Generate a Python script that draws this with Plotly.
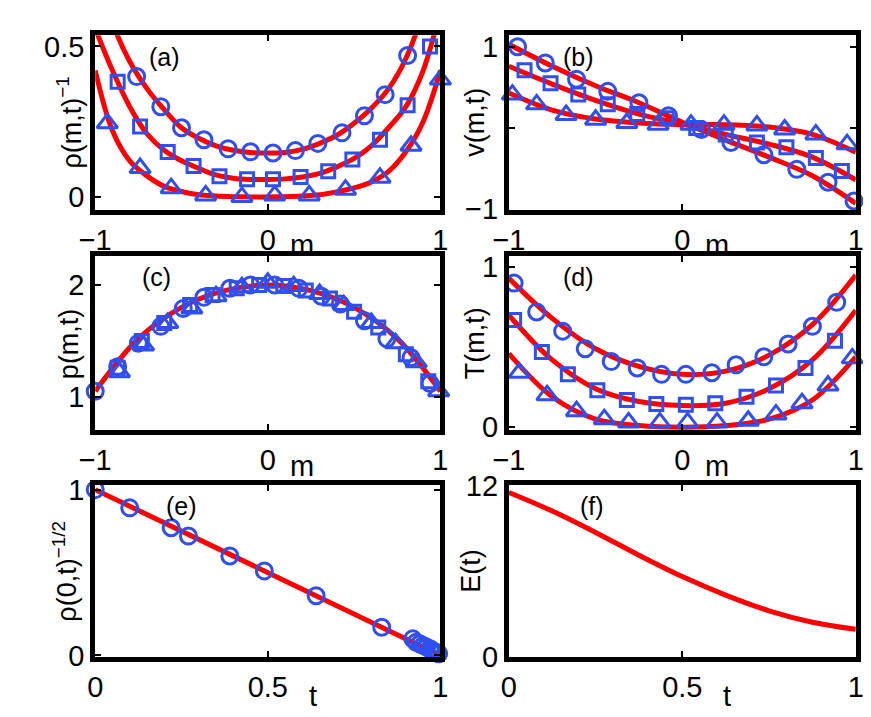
import plotly.graph_objects as go

# ---------- data ----------
m_grid21 = [-1, -0.9, -0.8, -0.7, -0.6, -0.5, -0.4, -0.3, -0.2, -0.1, 0, 0.1, 0.2, 0.3, 0.4, 0.5, 0.6, 0.7, 0.8, 0.9, 1]
a_curve_c = [0.8, 0.58, 0.45, 0.36, 0.29, 0.23, 0.195, 0.17, 0.155, 0.148, 0.146, 0.148, 0.158, 0.178, 0.205, 0.245, 0.295, 0.36, 0.46, 0.62, 0.9]
a_curve_s = [0.56, 0.42, 0.30, 0.21, 0.155, 0.12, 0.095, 0.073, 0.062, 0.058, 0.058, 0.06, 0.066, 0.078, 0.1, 0.128, 0.17, 0.23, 0.3, 0.42, 0.62]
a_curve_t = [0.42, 0.22, 0.12, 0.07, 0.035, 0.018, 0.007, 0.003, 0.001, 0, 0, 0.001, 0.003, 0.007, 0.017, 0.03, 0.05, 0.085, 0.15, 0.25, 0.42]
a_c_m = [-0.76, -0.62, -0.50, -0.37, -0.23, -0.10, 0.03, 0.16, 0.29, 0.43, 0.56, 0.68, 0.81]
a_c_v = [0.40, 0.30, 0.23, 0.19, 0.16, 0.15, 0.146, 0.154, 0.178, 0.213, 0.27, 0.34, 0.47]
a_s_m = [-0.87, -0.74, -0.58, -0.43, -0.28, -0.12, 0.03, 0.19, 0.35, 0.49, 0.65, 0.81, 0.94]
a_s_v = [0.383, 0.234, 0.149, 0.103, 0.069, 0.059, 0.059, 0.066, 0.085, 0.124, 0.19, 0.305, 0.50]
a_t_m = [-0.93, -0.74, -0.56, -0.36, -0.15, 0.04, 0.24, 0.45, 0.65, 0.83, 1.0]
a_t_v = [0.245, 0.096, 0.029, 0.005, 0.0, 0.005, 0.005, 0.024, 0.064, 0.17, 0.39]

m_grid9 = [-1, -0.75, -0.5, -0.25, 0, 0.25, 0.5, 0.75, 1]
b_curve_c = [1.03, 0.76, 0.52, 0.31, 0.07, -0.15, -0.36, -0.59, -0.93]
b_curve_s = [0.76, 0.54, 0.34, 0.17, 0.05, -0.08, -0.2, -0.36, -0.64]
b_curve_t = [0.43, 0.22, 0.11, 0.06, 0.04, 0.04, 0.01, -0.08, -0.3]
b_c_m = [-0.95, -0.79, -0.61, -0.43, -0.25, -0.08, 0.11, 0.28, 0.47, 0.66, 0.84, 0.99]
b_c_v = [1.0, 0.80, 0.60, 0.45, 0.31, 0.15, -0.02, -0.18, -0.33, -0.51, -0.67, -0.90]
b_s_m = [-0.91, -0.76, -0.60, -0.43, -0.26, -0.09, 0.08, 0.25, 0.43, 0.6, 0.77, 0.92]
b_s_v = [0.71, 0.55, 0.41, 0.29, 0.17, 0.12, 0.0, -0.08, -0.18, -0.24, -0.37, -0.53]
b_t_m = [-0.98, -0.84, -0.67, -0.50, -0.32, -0.14, 0.05, 0.24, 0.43, 0.59, 0.77, 0.95]
b_t_v = [0.41, 0.29, 0.16, 0.10, 0.06, 0.04, 0.04, 0.04, 0.03, -0.02, -0.08, -0.2]

c_curve = [1.05, 1.52, 1.80, 1.95, 2.0, 1.95, 1.80, 1.52, 1.05]
c_c_m = [-1.0, -0.87, -0.75, -0.62, -0.49, -0.37, -0.22, -0.1, 0.04, 0.18, 0.31, 0.42, 0.56, 0.69, 0.83, 0.94]
c_c_v = [1.05, 1.27, 1.48, 1.63, 1.79, 1.89, 1.97, 2.0, 2.0, 1.97, 1.90, 1.83, 1.68, 1.52, 1.35, 1.12]
c_s_m = [-0.87, -0.73, -0.6, -0.45, -0.32, -0.18, -0.05, 0.09, 0.22, 0.36, 0.5, 0.64, 0.8, 0.93]
c_s_v = [1.26, 1.50, 1.66, 1.82, 1.91, 1.97, 2.0, 1.99, 1.95, 1.88, 1.76, 1.62, 1.38, 1.14]
c_t_m = [-0.86, -0.72, -0.58, -0.44, -0.3, -0.15, 0.0, 0.15, 0.3, 0.44, 0.6, 0.74, 0.86, 0.99]
c_t_v = [1.22, 1.46, 1.66, 1.79, 1.9, 1.98, 2.02, 1.99, 1.92, 1.82, 1.66, 1.48, 1.31, 1.05]

d_curve_c = [0.93, 0.68, 0.49, 0.38, 0.33, 0.35, 0.45, 0.64, 0.95]
d_curve_s = [0.70, 0.42, 0.24, 0.16, 0.135, 0.15, 0.24, 0.42, 0.73]
d_curve_t = [0.46, 0.19, 0.05, 0.01, 0.0, 0.01, 0.05, 0.17, 0.44]
d_c_m = [-0.97, -0.84, -0.69, -0.56, -0.41, -0.26, -0.12, 0.02, 0.17, 0.31, 0.47, 0.61, 0.75, 0.89]
d_c_v = [0.90, 0.72, 0.60, 0.49, 0.41, 0.37, 0.33, 0.33, 0.34, 0.39, 0.44, 0.52, 0.63, 0.78]
d_s_m = [-0.97, -0.81, -0.66, -0.49, -0.32, -0.15, 0.02, 0.19, 0.37, 0.54, 0.71, 0.88]
d_s_v = [0.67, 0.47, 0.33, 0.23, 0.17, 0.145, 0.14, 0.15, 0.19, 0.26, 0.37, 0.54]
d_t_m = [-0.94, -0.78, -0.61, -0.45, -0.31, -0.13, 0.03, 0.2, 0.38, 0.54, 0.69, 0.84, 0.98]
d_t_v = [0.34, 0.20, 0.10, 0.05, 0.03, 0.03, 0.03, 0.03, 0.04, 0.08, 0.15, 0.26, 0.43]

e_line_t = [0, 1]
e_line_v = [1, 0]
e_pts_t = [0, 0.10, 0.22, 0.27, 0.39, 0.49, 0.64, 0.83, 0.92, 0.93, 0.94, 0.95, 0.96, 0.97, 0.975, 0.98, 0.985, 0.99, 0.995]
e_pts_v = [1.0, 0.89, 0.77, 0.72, 0.60, 0.51, 0.36, 0.17, 0.10, 0.08, 0.07, 0.06, 0.05, 0.04, 0.03, 0.025, 0.02, 0.015, 0.01]

f_t = [0, 0.125, 0.25, 0.375, 0.5, 0.625, 0.75, 0.875, 1]
f_E = [11.5, 10.2, 8.7, 7.1, 5.6, 4.3, 3.2, 2.4, 1.9]

# ---------- figure ----------
RED = "#ff0000"
BLUE = "#2f4ff0"
FONT = "Liberation Sans Narrow, Liberation Sans, Arial"
fig = go.Figure()

def line(x, y, ax):
    fig.add_trace(go.Scatter(x=x, y=y, mode="lines", line=dict(color=RED, width=5, shape="spline"),
                             xaxis="x" + ax, yaxis="y" + ax, showlegend=False, cliponaxis=True))

def pts(x, y, sym, ax, size=16):
    fig.add_trace(go.Scatter(x=x, y=y, mode="markers",
                             marker=dict(symbol=sym, size=size, color=BLUE,
                                         line=dict(color=BLUE, width=3)),
                             xaxis="x" + ax, yaxis="y" + ax, showlegend=False, cliponaxis=False))

line(m_grid21, a_curve_c, ""); line(m_grid21, a_curve_s, ""); line(m_grid21, a_curve_t, "")
pts(a_c_m, a_c_v, "circle-open", ""); pts(a_s_m, a_s_v, "square-open", "", 13); pts(a_t_m, a_t_v, "triangle-up-open", "", 18)
line(m_grid9, b_curve_c, "2"); line(m_grid9, b_curve_s, "2"); line(m_grid9, b_curve_t, "2")
pts(b_c_m, b_c_v, "circle-open", "2"); pts(b_s_m, b_s_v, "square-open", "2", 13); pts(b_t_m, b_t_v, "triangle-up-open", "2", 18)
line(m_grid9, c_curve, "3")
pts(c_c_m, c_c_v, "circle-open", "3"); pts(c_s_m, c_s_v, "square-open", "3", 13); pts(c_t_m, c_t_v, "triangle-up-open", "3", 18)
line(m_grid9, d_curve_c, "4"); line(m_grid9, d_curve_s, "4"); line(m_grid9, d_curve_t, "4")
pts(d_c_m, d_c_v, "circle-open", "4"); pts(d_s_m, d_s_v, "square-open", "4", 13); pts(d_t_m, d_t_v, "triangle-up-open", "4", 18)
line(e_line_t, e_line_v, "5")
pts(e_pts_t, e_pts_v, "circle-open", "5")
line(f_t, f_E, "6")

xd = [[0.083, 0.491], [0.572, 0.982]]
yd = [[0.728, 0.982], [0.407, 0.661], [0.077, 0.328]]
axis_common = dict(showline=True, mirror="ticks", linecolor="black", linewidth=5, ticks="inside",
                   ticklen=6, tickwidth=1.5, tickcolor="black", showgrid=False, zeroline=False,
                   tickfont=dict(family=FONT, size=29, color="black"))
xr_m = [-1, 1]
xr_t = [0, 1]
yranges = [[-0.043, 0.537], [-1.01, 1.14], [0.7, 2.26], [-0.02, 1.07], [-0.01, 1.03], [-0.05, 12.05]]
yticks = [([0, 0.5], ["0", "0.5"]), ([-1, 0, 1], ["−1", "", "1"]), ([1, 2], ["1", "2"]),
          ([0, 1], ["0", "1"]), ([0, 1], ["0", "1"]), ([0, 12], ["0", "12"])]
ytitles = ["ρ(m,t)<sup>−1</sup>", "v(m,t)", "p(m,t)", "T(m,t)", "ρ(0,t)<sup>−1/2</sup>", "E(t)"]
ytitle_x = [0.052, 0.532, 0.052, 0.532, 0.047, 0.527]
labels = ["(a)", "(b)", "(c)", "(d)", "(e)", "(f)"]
lay = {}
for i in range(6):
    r, c = divmod(i, 2)
    key = "" if i == 0 else str(i + 1)
    tx = xr_t if r == 2 else xr_m
    tv = [0, 0.5, 1] if r == 2 else [-1, 0, 1]
    tt = ["0", "0.5", "1"] if r == 2 else ["−1", "0", "1"]
    lay["xaxis" + key] = dict(axis_common, domain=xd[c], range=tx, tickvals=tv, ticktext=tt,
                              anchor="y" + key)
    lay["yaxis" + key] = dict(axis_common, domain=yd[r], range=yranges[i], tickvals=yticks[i][0],
                              ticktext=yticks[i][1], anchor="x" + key)
fig.update_layout(**lay)

ann = []
for i in range(6):
    r, c = divmod(i, 2)
    key = "" if i == 0 else str(i + 1)
    lx = [0.15, 0.15, 0.13, 0.15, 0.2, 0.2][i]
    ann.append(dict(text=labels[i], xref="x" + key + " domain",
                    yref="y" + key + " domain", x=lx, y=0.97, xanchor="left", yanchor="top",
                    showarrow=False, font=dict(family=FONT, size=25, color="black")))
    ann.append(dict(text=ytitles[i], xref="paper", yref="y" + key + " domain", x=ytitle_x[i], y=0.5,
                    xanchor="center", yanchor="middle", textangle=-90, showarrow=False,
                    font=dict(family=FONT, size=27, color="black")))
    if r < 2:
        ann.append(dict(text="m", xref="x" + key + " domain", yref="y" + key + " domain",
                        x=0.6, y=-0.1, xanchor="center", yanchor="top", showarrow=False,
                        font=dict(family=FONT, size=29, color="black")))
    else:
        ann.append(dict(text="t", xref="x" + key + " domain", yref="y" + key + " domain",
                        x=0.63, y=-0.12, xanchor="center", yanchor="top", showarrow=False,
                        font=dict(family=FONT, size=29, color="black")))
fig.update_layout(annotations=ann, width=871, height=717, margin=dict(l=0, r=0, t=0, b=0),
                  plot_bgcolor="white", paper_bgcolor="white")
fig.write_html("out.html")
